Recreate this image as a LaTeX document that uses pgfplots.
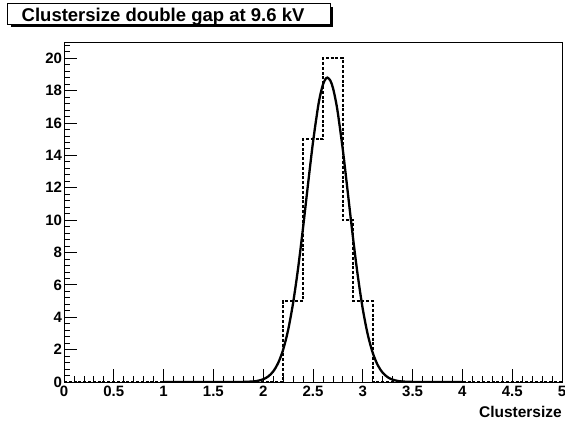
\documentclass[border=0pt]{standalone}
\usepackage{fontspec}
\setmainfont{Liberation Sans}
\usepackage{pgfplots}
\pgfplotsset{compat=1.18}
\begin{document}
\begin{tikzpicture}[x=1pt,y=1pt]
\useasboundingbox (0,0) rectangle (565,421);
% title pave with its drop shadow
\fill[black] (10.5,394) rectangle (332.5,414);
\draw[fill=white, line width=1pt] (7.5,396) rectangle (330,417);
\node[anchor=base west, inner sep=0pt, font=\bfseries\fontsize{18.5}{18.5}\selectfont] at (21.5,399.5) {Clustersize double gap at 9.6 kV};
\begin{axis}[
  at={(64pt,39pt)}, anchor=south west,
  scale only axis, width=498pt, height=340pt,
  xmin=0, xmax=5, ymin=0, ymax=21,
  axis line style={line width=0.9pt},
  xtick={0,0.5,...,5}, minor x tick num=4,
  ytick={0,2,...,22}, minor y tick num=4,
  xtick pos=bottom, ytick pos=left, tick align=inside,
  major tick length=13pt, minor tick length=6.5pt,
  tick style={line width=0.8pt, black},
  xticklabels={0,0.5,1,1.5,2,2.5,3,3.5,4,4.5,5},
  yticklabels={0,2,4,6,8,10,12,14,16,18,20},
  ticklabel style={font=\bfseries\fontsize{15}{15}\selectfont},
  xticklabel style={yshift=-0.5pt},
  yticklabel style={xshift=1.5pt},
  xlabel={Clustersize},
  xlabel style={at={(axis description cs:1,0)}, anchor=base east, yshift=-35pt, inner sep=0pt, font=\bfseries\fontsize{15.5}{15.5}\selectfont},
]
% histogram, bins of 0.1
\addplot[const plot, line width=2.3pt, dash pattern=on 3pt off 1.8pt] coordinates {
 (0,0) (2.2,5) (2.4,15) (2.6,20) (2.8,10) (2.9,5) (3.1,0) (5,0)
};
% gaussian fit, mean 2.645, sigma 0.21
\addplot[smooth, line width=2.3pt, black] coordinates {
 (1.0,0) (1.5,0) (1.7,0.001) (1.8,0.006) (1.9,0.035) (1.95,0.079)
 (2.0,0.168) (2.05,0.340) (2.1,0.648) (2.15,1.169) (2.2,1.991)
 (2.25,3.205) (2.3,4.877) (2.35,7.009) (2.4,9.519) (2.45,12.216)
 (2.5,14.81) (2.55,16.97) (2.575,17.78) (2.6,18.37) (2.625,18.71)
 (2.645,18.8) (2.675,18.61) (2.7,18.17) (2.725,17.48) (2.75,16.59)
 (2.8,14.32) (2.85,11.67) (2.9,8.994) (2.95,6.548) (3.0,4.504)
 (3.05,2.928) (3.1,1.797) (3.15,1.043) (3.2,0.572) (3.25,0.296)
 (3.3,0.145) (3.35,0.067) (3.4,0.029) (3.5,0.005) (3.6,0.001)
 (3.8,0) (4.0,0)
};
\end{axis}
\end{tikzpicture}
\end{document}
